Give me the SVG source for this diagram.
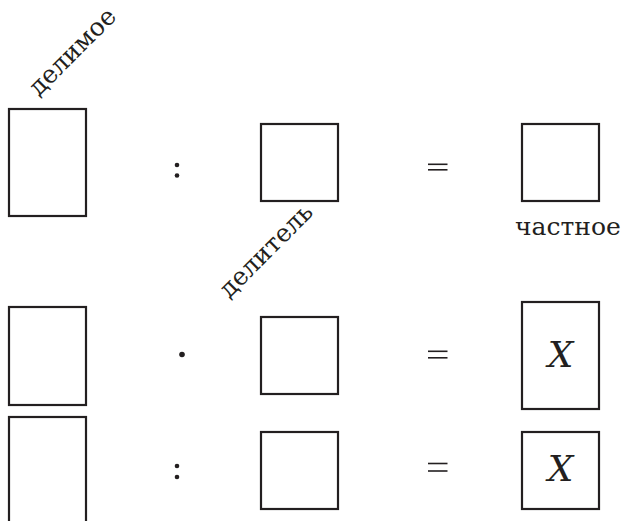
<svg xmlns="http://www.w3.org/2000/svg" width="625" height="521" viewBox="0 0 625 521">
<style>
.box{fill:#fff;stroke:#231f20;stroke-width:2.2}
.lbl{font-family:"DejaVu Serif","Liberation Serif",serif;font-size:25px;fill:#231f20}
.x{font-family:"DejaVu Serif","Liberation Serif",serif;font-style:italic;font-size:36px;fill:#231f20;text-anchor:middle}
.op{stroke:#231f20;stroke-width:1.6}
.dot{fill:#231f20}
</style>
<rect width="625" height="521" fill="#fff"/>
<g id="row1">
  <g id="dividend"><rect class="box" x="9" y="109" width="77" height="107"/></g>
  <g id="colon1"><circle class="dot" cx="177" cy="165" r="2.3"/><circle class="dot" cx="177" cy="175.5" r="2.3"/></g>
  <g id="divisor"><rect class="box" x="261" y="124" width="77" height="77"/></g>
  <g id="eq1"><line class="op" x1="428" y1="164.3" x2="447.5" y2="164.3"/><line class="op" x1="428" y1="169.8" x2="447.5" y2="169.8"/></g>
  <g id="quotient"><rect class="box" x="522" y="124" width="77" height="77"/></g>
</g>
<g id="labels">
  <text class="lbl" transform="translate(38.5,97) rotate(-45)">делимое</text>
  <text class="lbl" transform="translate(229,299) rotate(-45)">делитель</text>
  <text class="lbl" x="515" y="235">частное</text>
</g>
<g id="row2">
  <g id="r2a"><rect class="box" x="9" y="307" width="77" height="98"/></g>
  <g id="dot2"><circle class="dot" cx="182" cy="354.5" r="2.8"/></g>
  <g id="r2b"><rect class="box" x="261" y="317" width="77" height="77"/></g>
  <g id="eq2"><line class="op" x1="428" y1="351.3" x2="447.5" y2="351.3"/><line class="op" x1="428" y1="357.8" x2="447.5" y2="357.8"/></g>
  <g id="r2c"><rect class="box" x="522" y="302" width="77" height="107"/><text class="x" x="560.5" y="367">X</text></g>
</g>
<g id="row3">
  <g id="r3a"><rect class="box" x="9" y="417" width="77" height="110"/></g>
  <g id="colon3"><circle class="dot" cx="177" cy="466" r="2.3"/><circle class="dot" cx="177" cy="477" r="2.3"/></g>
  <g id="r3b"><rect class="box" x="261" y="432" width="77" height="77"/></g>
  <g id="eq3"><line class="op" x1="428" y1="463.5" x2="447.5" y2="463.5"/><line class="op" x1="428" y1="471" x2="447.5" y2="471"/></g>
  <g id="r3c"><rect class="box" x="522" y="432" width="77" height="77"/><text class="x" x="560.5" y="481">X</text></g>
</g>
<g id="connectors"/>
</svg>
